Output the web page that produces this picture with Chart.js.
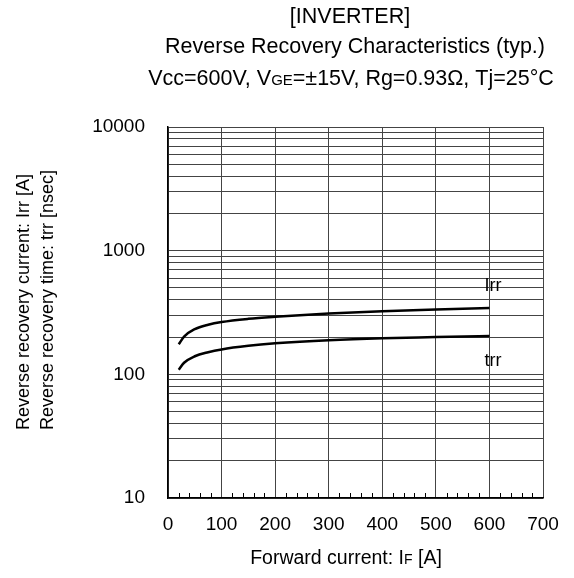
<!DOCTYPE html>
<html>
<head>
<meta charset="utf-8">
<script src="https://cdn.jsdelivr.net/npm/chart.js@4"></script>
<style>
  html, body { margin: 0; padding: 0; background: #fff; }
  #wrap { width: 574px; height: 578px; position: relative; }
</style>
</head>
<body>
<div id="wrap"><canvas id="myChart" width="574" height="578"></canvas></div>
<script>
// forward current [A]
var currentA = [20, 30, 50, 75, 100, 150, 200, 300, 400, 500, 600];
// reverse recovery current Irr [A]
var irrA = [175, 202, 232, 252, 265, 281, 292, 310, 324, 335, 344];
// reverse recovery time trr [nsec]
var trrNs = [109, 124, 140, 151, 159, 170, 178, 189, 196, 200, 204];

var yGridValues = [10, 20, 30, 40, 50, 60, 70, 80, 90,
  100, 200, 300, 400, 500, 600, 700, 800, 900,
  1000, 2000, 3000, 4000, 5000, 6000, 7000, 8000, 9000, 10000];
var yTickLabels = [10, 100, 1000, 10000];
var xMinorTicks = [20, 40, 60, 80];

var seriesLabels = [
  {text: "Irr", x: 600, y: 520},
  {text: "trr", x: 600, y: 128}
];

var FONT = "'Liberation Sans', Arial, sans-serif";

function pts(xs, ys) {
  return xs.map(function (x, i) { return {x: x, y: ys[i]}; });
}

var textPlugin = {
  id: "texts",
  afterDraw: function (chart) {
    var ctx = chart.ctx;
    var xs = chart.scales.x, ys = chart.scales.y;
    ctx.save();
    ctx.fillStyle = "#000";
    ctx.textBaseline = "middle";

    // minor ticks along the bottom axis
    ctx.strokeStyle = "#000";
    ctx.lineWidth = 1;
    for (var h = 0; h < 700; h += 100) {
      xMinorTicks.forEach(function (m) {
        var px = Math.round(xs.getPixelForValue(h + m)) + 0.5;
        ctx.beginPath();
        ctx.moveTo(px, chart.chartArea.bottom);
        ctx.lineTo(px, chart.chartArea.bottom - 5);
        ctx.stroke();
      });
    }

    // titles
    ctx.font = "21.5px " + FONT;
    ctx.textAlign = "center";
    ctx.fillText("[INVERTER]", 350, 17);
    ctx.fillText("Reverse Recovery Characteristics (typ.)", 355, 47);

    drawSub(ctx, ["Vcc=600V, V", "GE", "=±15V, Rg=0.93Ω, Tj=25°C"], 351, 77, 21.5, 15);
    drawSub(ctx, ["Forward current: I", "F", " [A]"], 346, 557, 19.5, 14);

    // y axis title (two lines)
    ctx.font = "18px " + FONT;
    ctx.textAlign = "left";
    ctx.save();
    ctx.translate(24, 430);
    ctx.rotate(-Math.PI / 2);
    ctx.fillText("Reverse recovery current: Irr [A]", 0, 0);
    ctx.restore();
    ctx.save();
    ctx.translate(48, 430);
    ctx.rotate(-Math.PI / 2);
    ctx.fillText("Reverse recovery time: trr [nsec]", 0, 0);
    ctx.restore();

    // series labels
    ctx.font = "18px " + FONT;
    ctx.textAlign = "left";
    seriesLabels.forEach(function (l) {
      ctx.fillText(l.text, xs.getPixelForValue(l.x) - 5, ys.getPixelForValue(l.y));
    });
    ctx.restore();
  }
};

function drawSub(ctx, parts, cx, cy, big, small) {
  var w = 0;
  parts.forEach(function (p, i) {
    ctx.font = (i % 2 ? small : big) + "px " + FONT;
    w += ctx.measureText(p).width;
  });
  var x = cx - w / 2;
  ctx.textAlign = "left";
  ctx.textBaseline = "alphabetic";
  var base = cy + big * 0.36;
  parts.forEach(function (p, i) {
    ctx.font = (i % 2 ? small : big) + "px " + FONT;
    ctx.fillText(p, x, base);
    x += ctx.measureText(p).width;
  });
  ctx.textBaseline = "middle";
}

new Chart("myChart", {
  type: "line",
  data: {
    datasets: [
      {label: "Irr", data: pts(currentA, irrA), borderColor: "#000", borderWidth: 2.5,
       pointRadius: 0, cubicInterpolationMode: "monotone", fill: false},
      {label: "trr", data: pts(currentA, trrNs), borderColor: "#000", borderWidth: 2.5,
       pointRadius: 0, cubicInterpolationMode: "monotone", fill: false}
    ]
  },
  options: {
    responsive: false,
    animation: false,
    layout: {padding: {top: 127, right: 31, left: 0, bottom: 0}},
    plugins: {legend: {display: false}, tooltip: {enabled: false}, title: {display: false}},
    scales: {
      x: {
        type: "linear", min: 0, max: 700,
        ticks: {stepSize: 100, color: "#000", font: {family: FONT, size: 19}, padding: 15, maxRotation: 0},
        grid: {color: "#444", lineWidth: 1, drawTicks: false},
        border: {color: "#000", width: 1.5},
        afterFit: function (s) { s.height = 80; }
      },
      y: {
        type: "logarithmic", min: 10, max: 10000,
        afterBuildTicks: function (s) {
          s.ticks = yGridValues.map(function (v) { return {value: v}; });
        },
        ticks: {
          color: "#000", font: {family: FONT, size: 19}, padding: 23, autoSkip: false,
          callback: function (v) { return yTickLabels.indexOf(v) >= 0 ? String(v) : ""; }
        },
        grid: {color: "#444", lineWidth: 1, drawTicks: false},
        border: {color: "#000", width: 1.5},
        afterFit: function (s) { s.width = 168; }
      }
    }
  },
  plugins: [textPlugin]
});
</script>
</body>
</html>
